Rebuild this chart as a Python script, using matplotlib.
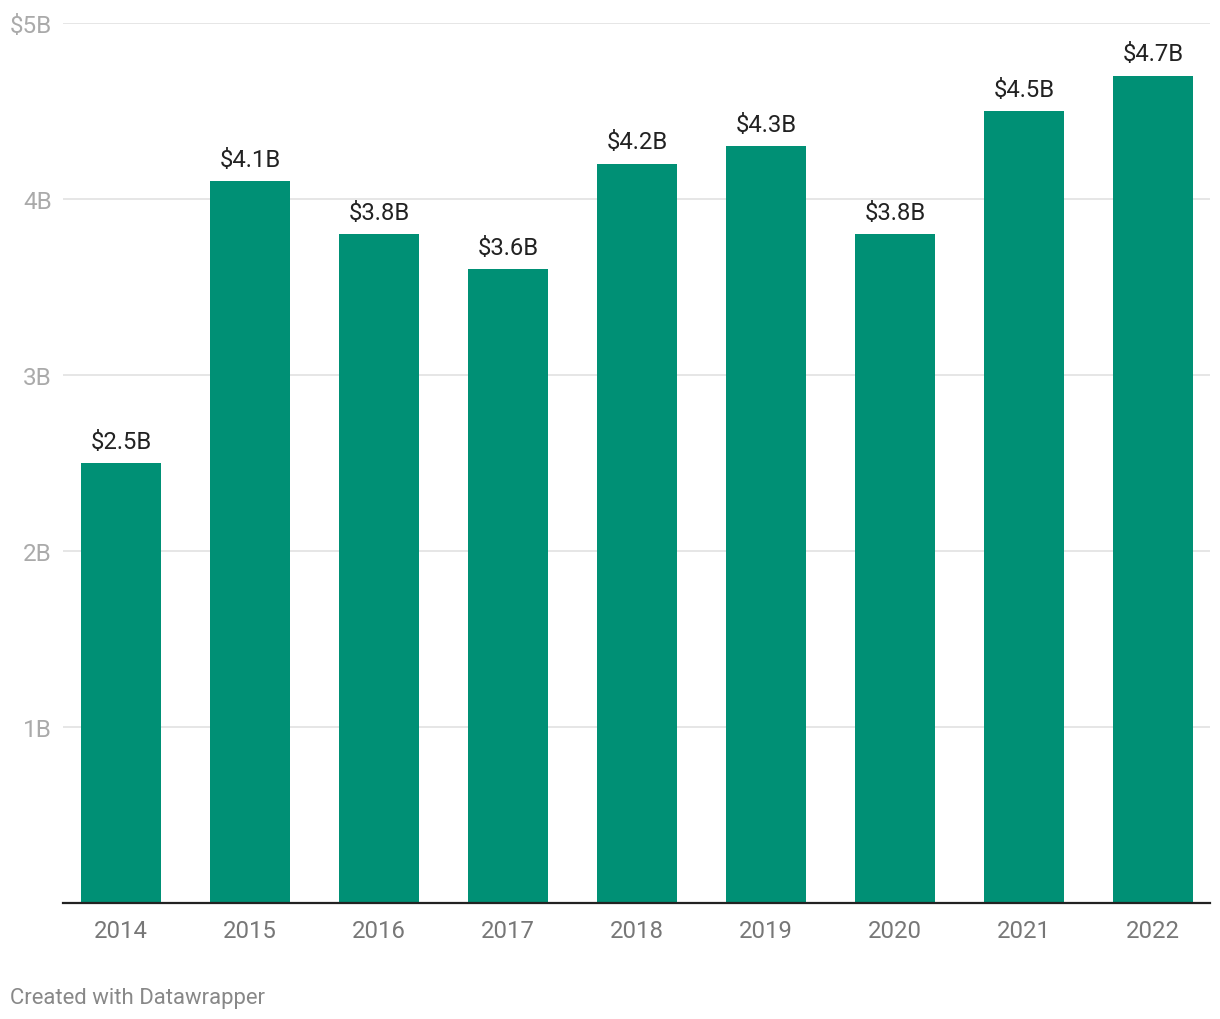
import matplotlib
matplotlib.use("Agg")
import matplotlib.pyplot as plt

years = ["2014", "2015", "2016", "2017", "2018", "2019", "2020", "2021", "2022"]
values = [2.5, 4.1, 3.8, 3.6, 4.2, 4.3, 3.8, 4.5, 4.7]
value_labels = ["$2.5B", "$4.1B", "$3.8B", "$3.6B", "$4.2B", "$4.3B", "$3.8B", "$4.5B", "$4.7B"]
y_ticks = [1, 2, 3, 4, 5]
y_tick_labels = ["1B", "2B", "3B", "4B", "$5B"]

plt.rcParams['font.family'] = ['Roboto', 'DejaVu Sans']

W, H = 1220, 1020
fig = plt.figure(figsize=(W / 100, H / 100), dpi=100)
left, right, bottom_px, top_px = 63, 1210, 904, 24
ax = fig.add_axes([left / W, (H - bottom_px) / H, (right - left) / W, (bottom_px - top_px) / H])

x = list(range(len(years)))
ax.bar(x, values, width=0.62, color="#009075", zorder=3)
ax.set_xlim(-0.45, len(years) - 1 + 0.44)
ax.set_ylim(0, 5)

for xi, v, lab in zip(x, values, value_labels):
    ax.annotate(lab, (xi, v), xytext=(0, 7.5), textcoords="offset points",
                ha="center", va="bottom", fontsize=17.2, color="#222222")

ax.set_yticks(y_ticks)
ax.set_yticklabels(y_tick_labels)
ax.set_xticks(x)
ax.set_xticklabels(years)
ax.tick_params(axis="y", length=0, pad=8, labelsize=17.5, labelcolor="#aaaaaa")
ax.tick_params(axis="x", length=0, pad=11.5, labelsize=17.2, labelcolor="#777777")
for t in ax.get_yticklabels():
    t.set_horizontalalignment("right")

ax.grid(axis="y", color="#e2e2e2", linewidth=1.2, zorder=0)
for s in ["top", "right", "left"]:
    ax.spines[s].set_visible(False)
ax.spines["bottom"].set_color("#222222")
ax.spines["bottom"].set_linewidth(1.6)
ax.spines["bottom"].set_zorder(4)

fig.text(10 / W, 1 - 999 / H, "Created with Datawrapper", fontsize=15.9,
         color="#888888", ha="left", va="center")

fig.savefig("out.png", dpi=100, facecolor="white")
